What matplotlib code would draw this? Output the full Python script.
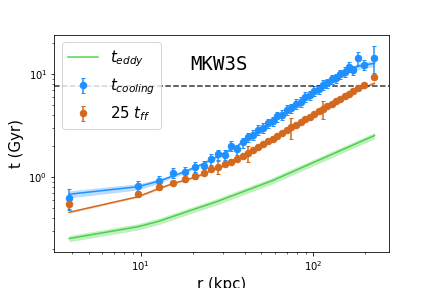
import matplotlib
matplotlib.use("Agg")
import matplotlib.pyplot as plt

# radii of the annuli (kpc)
r = [3.85, 9.65, 12.8, 15.4, 18.1, 20.6, 23.1, 25.5, 28.2, 30.8,
     33.4, 36.3, 39.0, 41.8, 44.7, 47.8, 51.0, 54.4, 58.0, 61.8,
     65.8, 70.0, 74.5, 79.2, 84.2, 89.5, 95.0, 100.8, 107.0, 113.5,
     120.3, 127.5, 135.0, 143.0, 151.5, 160.5, 170.0, 180.7, 197.5, 225.7]

# cooling time points (Gyr)
tcool = [0.625, 0.823, 0.93, 1.11, 1.13, 1.27, 1.30, 1.50, 1.67, 1.65,
         2.01, 1.87, 2.18, 2.45, 2.58, 2.88, 3.02, 3.35, 3.50, 3.90,
         4.05, 4.50, 4.70, 5.20, 5.42, 6.02, 6.25, 6.90, 7.20, 7.95,
         8.20, 8.95, 9.20, 10.0, 10.6, 11.9, 11.0, 14.3, 12.3, 14.5]
tcool_err = [0.14, 0.10, 0.11, 0.13, 0.13, 0.14, 0.15, 0.17, 0.19, 0.19,
             0.22, 0.21, 0.24, 0.27, 0.28, 0.31, 0.33, 0.36, 0.38, 0.42,
             0.44, 0.48, 0.50, 0.56, 0.58, 0.64, 0.66, 0.74, 0.76, 0.85,
             0.88, 0.96, 0.98, 1.06, 1.12, 1.25, 1.15, 2.10, 1.40, 4.30]

# 25 x free-fall time points (Gyr)
tff = [0.55, 0.69, 0.80, 0.887, 0.956, 1.02, 1.11, 1.20, 1.25, 1.34,
       1.42, 1.50, 1.61, 1.72, 1.84, 1.97, 2.10, 2.24, 2.38, 2.54,
       2.70, 2.87, 3.05, 3.24, 3.44, 3.66, 3.88, 4.11, 4.36, 4.62,
       4.89, 5.18, 5.48, 5.80, 6.14, 6.50, 6.88, 7.31, 7.87, 9.50]
tff_err = [0.055, 0.04, 0.04, 0.04, 0.05, 0.05, 0.05, 0.06, 0.18, 0.06,
           0.07, 0.07, 0.08, 0.30, 0.09, 0.09, 0.10, 0.10, 0.11, 0.12,
           0.12, 0.13, 0.70, 0.15, 0.16, 0.17, 0.18, 0.19, 0.20, 0.90,
           0.22, 0.23, 0.24, 0.26, 0.27, 0.29, 0.30, 0.32, 0.35, 0.42]

# model curves
tcool_fit = [0.684, 0.81, 0.92, 1.03, 1.14, 1.25, 1.36, 1.48, 1.61, 1.74,
             1.87, 2.02, 2.22, 2.41, 2.61, 2.82, 3.05, 3.29, 3.55, 3.82,
             4.12, 4.43, 4.77, 5.12, 5.50, 5.92, 6.35, 6.81, 7.31, 7.83,
             8.30, 8.80, 9.31, 9.87, 10.4, 10.9, 11.4, 11.9, 12.3, 12.8]
tcool_band = [0.08, 0.07, 0.05, 0.04, 0.04, 0.035, 0.03, 0.03, 0.03, 0.03,
              0.03, 0.03, 0.03, 0.03, 0.03, 0.03, 0.03, 0.03, 0.03, 0.03,
              0.03, 0.03, 0.03, 0.03, 0.03, 0.03, 0.03, 0.03, 0.035, 0.035,
              0.04, 0.04, 0.045, 0.05, 0.05, 0.055, 0.06, 0.065, 0.07, 0.07]

tff_fit = [0.457, 0.648, 0.78, 0.87, 0.94, 1.00, 1.08, 1.16, 1.23, 1.31,
           1.39, 1.47, 1.57, 1.68, 1.79, 1.91, 2.04, 2.17, 2.31, 2.46,
           2.61, 2.78, 2.95, 3.14, 3.33, 3.54, 3.76, 3.98, 4.23, 4.48,
           4.74, 5.02, 5.31, 5.63, 5.96, 6.31, 6.68, 7.05, 7.45, 8.20]

teddy = [0.254, 0.331, 0.375, 0.417, 0.457, 0.492, 0.525, 0.555, 0.588, 0.623,
         0.656, 0.691, 0.723, 0.755, 0.788, 0.822, 0.856, 0.892, 0.929, 0.975,
         1.021, 1.069, 1.119, 1.171, 1.225, 1.282, 1.340, 1.400, 1.463, 1.528,
         1.596, 1.666, 1.738, 1.814, 1.893, 1.975, 2.061, 2.157, 2.303, 2.542]

t_threshold = 7.74

fig = plt.figure(figsize=(6, 4), dpi=72)
ax = fig.add_axes([0.1257, 0.125, 0.7755, 0.7535])

ax.plot(r, teddy, color="limegreen", lw=1.5, alpha=0.85, label="$t_{eddy}$")
ax.fill_between(r, [t * 0.93 for t in teddy], [t * 1.07 for t in teddy],
                color="limegreen", alpha=0.3, lw=0)

ax.plot(r, tcool_fit, color="dodgerblue", lw=1.5)
ax.fill_between(r, [t * (1 - b) for t, b in zip(tcool_fit, tcool_band)],
                [t * (1 + b) for t, b in zip(tcool_fit, tcool_band)],
                color="dodgerblue", alpha=0.3, lw=0)

ax.plot(r, tff_fit, color="chocolate", lw=1.5)
ax.fill_between(r, [t * 0.98 for t in tff_fit], [t * 1.02 for t in tff_fit],
                color="chocolate", alpha=0.3, lw=0)

ax.errorbar(r, tcool, yerr=tcool_err, fmt="o", color="dodgerblue", ms=6.5,
            capsize=2, label="$t_{cooling}$")
ax.errorbar(r, tff, yerr=tff_err, fmt="o", color="chocolate", ms=6.5,
            capsize=2, label="25 $t_{ff}$")

ax.axhline(t_threshold, color="k", ls="--", lw=1.5, alpha=0.8)

ax.set_xscale("log")
ax.set_yscale("log")
ax.set_xlim(3.16, 275)
ax.set_ylim(0.188, 24.1)

ax.set_xlabel("r (kpc)", fontsize=15)
ax.set_ylabel("t (Gyr)", fontsize=15)
ax.text(0.493, 0.865, "MKW3S", transform=ax.transAxes, ha="center",
        va="center", fontsize=19, family="DejaVu Sans Mono")

ax.legend(loc="upper left", fontsize=15)

fig.savefig("out.png", dpi=72)
